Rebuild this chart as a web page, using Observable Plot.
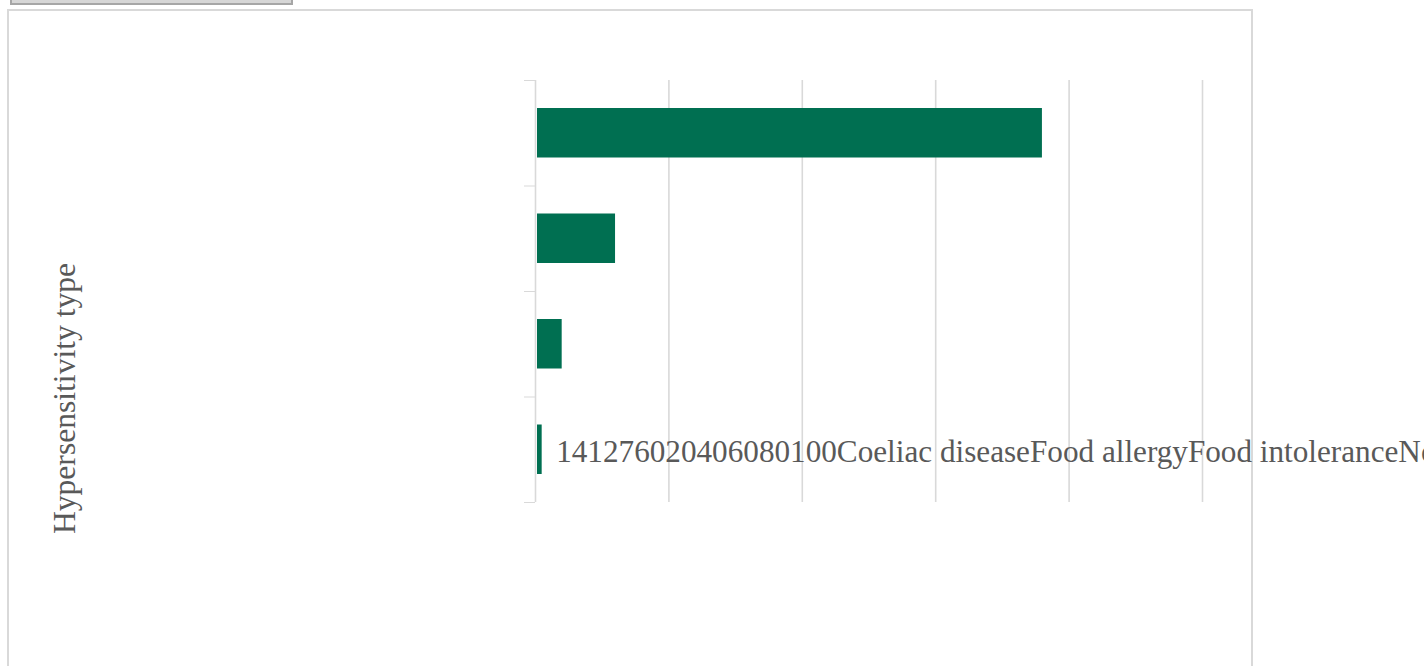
<!DOCTYPE html>
<html>
<head>
<meta charset="utf-8">
<script src="https://cdn.jsdelivr.net/npm/d3@7"></script>
<script src="https://cdn.jsdelivr.net/npm/@observablehq/plot@0.6"></script>
<style>
  html, body { margin: 0; padding: 0; background: #fff; overflow: hidden; width: 1424px; height: 666px; }
  #topbox { position: absolute; left: 10px; top: -22px; width: 279px; height: 23px; background: #d6d6d6; border: 2px solid #a6a6a6; }
  #frame { position: absolute; left: 7px; top: 9px; width: 1242px; height: 720px; border: 2px solid #d9d9d9; }
  #chart { position: absolute; left: 0; top: 0; }
</style>
</head>
<body>
<div id="topbox"></div>
<div id="frame"></div>
<div id="chart"></div>
<script>
// Data (Excel order: first category at the bottom)
const categories = ["Coeliac disease", "Food allergy", "Food intolerance", "No hypersensitivity"];
const values = [1, 4, 12, 76];
const xTicks = [0, 20, 40, 60, 80, 100];
const yAxisTitle = "Hypersensitivity type";

const rows = categories.map((c, i) => ({cat: c, value: values[i], i}));
const bandEdges = d3.range(categories.length + 1);
// broken label run: data labels, tick labels and category names concatenated
const runText = values.join("") + xTicks.join("") + categories.join("");

const serif = "'Liberation Serif', 'Times New Roman', serif";
const textColor = "#595959";
const grid = "#d9d9d9";

const chart = Plot.plot({
  width: 1424,
  height: 666,
  marginLeft: 535,
  marginRight: 222,
  marginTop: 80,
  marginBottom: 164,
  style: {color: grid, background: "transparent", overflow: "visible"},
  x: {domain: [0, 100], axis: null},
  y: {domain: [0, categories.length], ticks: bandEdges, tickSize: 11, tickFormat: () => "", label: null},
  marks: [
    Plot.ruleX(xTicks, {stroke: grid, strokeWidth: 1.6}),
    Plot.rect(rows, {
      x1: 0, x2: "value",
      y1: d => d.i, y2: d => d.i + 1,
      insetTop: 28, insetBottom: 28, insetLeft: 2,
      fill: "#006f51"
    }),
    Plot.text([runText], {
      text: d => d,
      x: values[0], y: 0.5,
      dx: 14, dy: 2,
      textAnchor: "start", lineAnchor: "middle",
      fontSize: 31.2, fontFamily: serif, fill: textColor
    }),
    Plot.text([yAxisTitle], {
      text: d => d,
      frameAnchor: "left",
      textAnchor: "middle",
      lineAnchor: "middle",
      rotate: -90,
      dx: -471, dy: 107,
      fontSize: 31.6, fontFamily: serif, fill: textColor
    })
  ]
});
document.getElementById("chart").appendChild(chart);
</script>
</body>
</html>
